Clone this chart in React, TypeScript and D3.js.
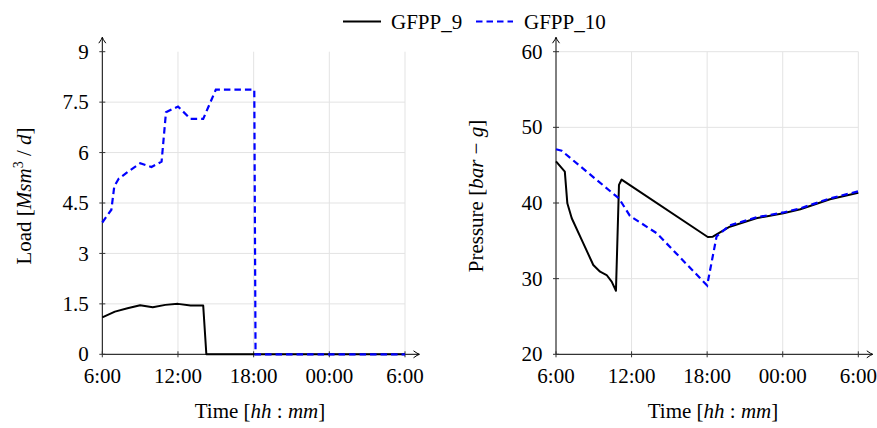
import React from "react";
import * as d3 from "d3";

// ---- data (hours after 6:00) ----
const xTickHours = [0, 6, 12, 18, 24];
const xTickLabels = ["6:00", "12:00", "18:00", "00:00", "6:00"];

const loadTicks = [0, 1.5, 3, 4.5, 6, 7.5, 9];
const loadTickLabels = ["0", "1.5", "3", "4.5", "6", "7.5", "9"];
const presTicks = [20, 30, 40, 50, 60];
const presTickLabels = ["20", "30", "40", "50", "60"];

const hours9L = [0, 1, 2, 3, 4, 5, 6, 7, 8, 8.25, 24];
const load9 = [1.1, 1.27, 1.37, 1.46, 1.4, 1.47, 1.5, 1.45, 1.45, 0, 0];

const hours10L = [0, 0.72, 0.95, 1.3, 2, 3, 3.9, 4.7, 5.05, 6, 7, 8, 9, 12.05, 12.15, 24];
const load10 = [3.92, 4.3, 5.0, 5.22, 5.42, 5.68, 5.57, 5.73, 7.2, 7.37, 7.0, 7.0, 7.87, 7.87, 0, 0];

const hours9R = [0, 0.7, 0.9, 1.25, 2.17, 2.96, 3.5, 4.02, 4.42, 4.76, 5.0, 5.21, 12.05, 12.45, 13.8, 15.9, 18.05, 19.4, 21.75, 24];
const pres9 = [45.5, 44.15, 39.96, 37.98, 34.67, 31.8, 30.92, 30.48, 29.6, 28.4, 42.4, 43.1, 35.5, 35.55, 36.87, 37.98, 38.64, 39.17, 40.49, 41.36];

const hours10R = [0, 0.45, 5.0, 5.87, 8.0, 12.0, 12.75, 13.8, 15.9, 18.05, 19.4, 21.75, 24];
const pres10 = [47.1, 46.9, 40.6, 38.3, 36.0, 29.1, 35.6, 37.05, 38.1, 38.75, 39.3, 40.6, 41.55];

const FONT = "'Liberation Serif', 'DejaVu Serif', serif";
const FS = 21;

type Panel = {
  x0: number;
  x1: number;
  yDomain: [number, number];
  ticks: number[];
  tickLabels: string[];
  gridTop: boolean;
  s9: [number[], number[]];
  s10: [number[], number[]];
  titleX: number;
  yTitleX: number;
  yTitle: React.ReactNode;
};

const Y0 = 354.3;
const Y1 = 51.7;

function Arrow({ x, y, dir }: { x: number; y: number; dir: "right" | "up" }) {
  const d =
    dir === "right"
      ? `M${x - 6},${y - 3.5} Q${x - 2},${y - 0.5} ${x},${y} Q${x - 2},${y + 0.5} ${x - 6},${y + 3.5}`
      : `M${x - 3.5},${y + 6} Q${x - 0.5},${y + 2} ${x},${y} Q${x + 0.5},${y + 2} ${x + 3.5},${y + 6}`;
  return <path d={d} fill="none" stroke="#000" strokeWidth={1} />;
}

function PanelView({ p }: { p: Panel }) {
  const x = d3.scaleLinear().domain([0, 24]).range([p.x0, p.x1]);
  const y = d3.scaleLinear().domain(p.yDomain).range([Y0, Y1]);
  const line = d3
    .line<[number, number]>()
    .x((d) => x(d[0]))
    .y((d) => y(d[1]));
  const pts = (s: [number[], number[]]) => s[0].map((h, i) => [h, s[1][i]] as [number, number]);
  return (
    <g>
      {/* grid */}
      {xTickHours.slice(1).map((h) => (
        <line key={"gx" + h} x1={x(h)} x2={x(h)} y1={Y0} y2={Y1} stroke="#e3e3e3" strokeWidth={1} />
      ))}
      {p.ticks.slice(1).map((t, i) =>
        !p.gridTop && i === p.ticks.length - 2 ? null : (
          <line key={"gy" + t} x1={p.x0} x2={p.x1} y1={y(t)} y2={y(t)} stroke="#e3e3e3" strokeWidth={1} />
        )
      )}
      {/* axes */}
      <line x1={p.x0} x2={p.x1 + 14} y1={Y0} y2={Y0} stroke="#000" strokeWidth={1} />
      <line x1={p.x0} x2={p.x0} y1={Y0} y2={Y1 - 14} stroke="#000" strokeWidth={1} />
      <Arrow x={p.x1 + 14.5} y={Y0} dir="right" />
      <Arrow x={p.x0} y={Y1 - 14.5} dir="up" />
      {/* ticks */}
      {xTickHours.map((h, i) => (
        <g key={"tx" + i}>
          <line x1={x(h)} x2={x(h)} y1={Y0 - 3} y2={Y0 + 3} stroke="#333" strokeWidth={1} />
          <text x={x(h)} y={383} textAnchor="middle" fontFamily={FONT} fontSize={FS}>
            {xTickLabels[i]}
          </text>
        </g>
      ))}
      {p.ticks.map((t, i) => (
        <g key={"ty" + i}>
          <line x1={p.x0 - 3} x2={p.x0 + 3} y1={y(t)} y2={y(t)} stroke="#333" strokeWidth={1} />
          <text x={p.x0 - 13.5} y={y(t)} dy="0.34em" textAnchor="end" fontFamily={FONT} fontSize={FS}>
            {p.tickLabels[i]}
          </text>
        </g>
      ))}
      {/* series */}
      <path d={line(pts(p.s9)) || ""} fill="none" stroke="#000" strokeWidth={2} strokeLinejoin="round" />
      <path d={line(pts(p.s10)) || ""} fill="none" stroke="#0000ff" strokeWidth={2.2} strokeDasharray="6.5 4" />
      {/* axis titles */}
      <text x={p.titleX} y={418} textAnchor="middle" fontFamily={FONT} fontSize={FS}>
        Time [<tspan fontStyle="italic">hh</tspan> : <tspan fontStyle="italic">mm</tspan>]
      </text>
      <text
        transform={`translate(${p.yTitleX},196) rotate(-90)`}
        textAnchor="middle"
        fontFamily={FONT}
        fontSize={FS}
      >
        {p.yTitle}
      </text>
    </g>
  );
}

export default function App() {
  const left: Panel = {
    x0: 102.3,
    x1: 405,
    yDomain: [0, 9],
    ticks: loadTicks,
    tickLabels: loadTickLabels,
    gridTop: false,
    s9: [hours9L, load9],
    s10: [hours10L, load10],
    titleX: 260,
    yTitleX: 30.5,
    yTitle: (
      <>
        Load [<tspan fontStyle="italic">Msm</tspan>
        <tspan fontSize={14} dy={-8}>3</tspan>
        <tspan dy={8}> / </tspan>
        <tspan fontStyle="italic">d</tspan>]
      </>
    ),
  };
  const right: Panel = {
    x0: 556,
    x1: 858.3,
    yDomain: [20, 60],
    ticks: presTicks,
    tickLabels: presTickLabels,
    gridTop: true,
    s9: [hours9R, pres9],
    s10: [hours10R, pres10],
    titleX: 713,
    yTitleX: 483,
    yTitle: (
      <>
        Pressure [<tspan fontStyle="italic">bar</tspan> − <tspan fontStyle="italic">g</tspan>]
      </>
    ),
  };
  return (
    <svg
      width={877}
      height={428}
      style={{ position: "absolute", left: 0, top: 0, background: "#fff" }}
    >
      <rect width={877} height={428} fill="#fff" />
      <PanelView p={left} />
      <PanelView p={right} />
      {/* legend */}
      <line x1={343} x2={381} y1={21.5} y2={21.5} stroke="#000" strokeWidth={2} />
      <text x={391} y={29.3} fontFamily={FONT} fontSize={FS}>
        GFPP_9
      </text>
      <line x1={476} x2={513} y1={21.5} y2={21.5} stroke="#0000ff" strokeWidth={2.2} strokeDasharray="6.5 4" />
      <text x={524} y={29.3} fontFamily={FONT} fontSize={FS}>
        GFPP_10
      </text>
    </svg>
  );
}
